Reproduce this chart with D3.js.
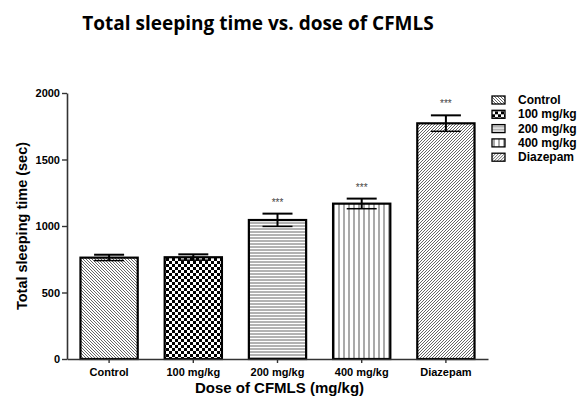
<!DOCTYPE html>
<html>
<head>
<meta charset="utf-8">
<script src="https://cdn.jsdelivr.net/npm/d3@7"></script>
<style>
  body { margin: 0; background: #fff; }
  text { font-family: "Liberation Sans", Arial, sans-serif; font-weight: bold; }
</style>
</head>
<body>
<div id="chart"></div>
<script>
var groups = ["Control", "100 mg/kg", "200 mg/kg", "400 mg/kg", "Diazepam"];
var means = [762, 765, 1045, 1168, 1772];
var errors = [22, 22, 48, 38, 60];
var stars = ["", "", "***", "***", "***"];
var patterns = ["diagBack", "checker", "horiz", "vert", "diagFwd"];
var yTicks = [0, 500, 1000, 1500, 2000];

var W = 578, H = 400;
var margin = {top: 93, right: 90, bottom: 41, left: 67},
    width = 488 - margin.left,
    height = 359 - margin.top;

var svg = d3.select("#chart").append("svg")
    .attr("width", W)
    .attr("height", H);

// patterns
var defs = svg.append("defs");
var p;
p = defs.append("pattern").attr("id", "diagBack").attr("patternUnits", "userSpaceOnUse")
  .attr("width", 3).attr("height", 3);
p.append("rect").attr("width", 3).attr("height", 3).attr("fill", "#fff");
p.append("path").attr("d", "M0,0 L3,3 M-1,2 L1,4 M2,-1 L4,1").attr("stroke", "#555").attr("stroke-width", 0.9);

p = defs.append("pattern").attr("id", "diagFwd").attr("patternUnits", "userSpaceOnUse")
  .attr("width", 3).attr("height", 3);
p.append("rect").attr("width", 3).attr("height", 3).attr("fill", "#fff");
p.append("path").attr("d", "M0,3 L3,0 M-1,1 L1,-1 M2,4 L4,2").attr("stroke", "#555").attr("stroke-width", 0.9);

p = defs.append("pattern").attr("id", "checker").attr("patternUnits", "userSpaceOnUse")
  .attr("width", 6).attr("height", 6);
p.append("rect").attr("width", 6).attr("height", 6).attr("fill", "#fff");
p.append("rect").attr("width", 3).attr("height", 3).attr("fill", "#000");
p.append("rect").attr("x", 3).attr("y", 3).attr("width", 3).attr("height", 3).attr("fill", "#000");

p = defs.append("pattern").attr("id", "horiz").attr("patternUnits", "userSpaceOnUse")
  .attr("width", 3).attr("height", 3);
p.append("rect").attr("width", 3).attr("height", 3).attr("fill", "#fff");
p.append("line").attr("x1", 0).attr("x2", 3).attr("y1", 1).attr("y2", 1).attr("stroke", "#666").attr("stroke-width", 1);

p = defs.append("pattern").attr("id", "vert").attr("patternUnits", "userSpaceOnUse")
  .attr("width", 5).attr("height", 5);
p.append("rect").attr("width", 5).attr("height", 5).attr("fill", "#fff");
p.append("line").attr("y1", 0).attr("y2", 5).attr("x1", 2).attr("x2", 2).attr("stroke", "#555").attr("stroke-width", 1);

// title
svg.append("text")
  .attr("x", 258)
  .attr("y", 30)
  .attr("text-anchor", "middle")
  .style("font-family", "'Open Sans', sans-serif")
  .style("font-size", "19px")
  .text("Total sleeping time vs. dose of CFMLS");

var g = svg.append("g")
  .attr("transform", "translate(" + margin.left + "," + margin.top + ")");

var x = d3.scaleBand().domain(groups).range([0, width]).paddingInner(0.32).paddingOuter(0.16);
var y = d3.scaleLinear().domain([0, 2000]).range([height, 0]);

// bars
g.selectAll(".bar")
  .data(groups)
  .enter().append("rect")
    .attr("class", "bar")
    .attr("x", function(d) { return x(d); })
    .attr("y", function(d, i) { return y(means[i]); })
    .attr("width", x.bandwidth())
    .attr("height", function(d, i) { return height - y(means[i]); })
    .attr("fill", function(d, i) { return "url(#" + patterns[i] + ")"; })
    .attr("stroke", "#000")
    .attr("stroke-width", 2.2);

// error bars
var capW = 30;
groups.forEach(function(d, i) {
  var cx = x(d) + x.bandwidth() / 2;
  var top = y(means[i] + errors[i]), bot = y(means[i] - errors[i]);
  g.append("line").attr("x1", cx).attr("x2", cx).attr("y1", top).attr("y2", bot)
    .attr("stroke", "#000").attr("stroke-width", 2);
  g.append("line").attr("x1", cx - capW / 2).attr("x2", cx + capW / 2).attr("y1", top).attr("y2", top)
    .attr("stroke", "#000").attr("stroke-width", 2);
  g.append("line").attr("x1", cx - capW / 2).attr("x2", cx + capW / 2).attr("y1", bot).attr("y2", bot)
    .attr("stroke", "#000").attr("stroke-width", 1.5);
  if (stars[i]) {
    g.append("text").attr("x", cx).attr("y", top - 8)
      .attr("text-anchor", "middle")
      .style("font-size", "10px")
      .style("font-weight", "normal")
      .attr("fill", "#444")
      .text(stars[i]);
  }
});

// axes
var yAxis = g.append("g")
  .call(d3.axisLeft(y).tickValues(yTicks).tickFormat(d3.format("d")).tickSize(5).tickSizeOuter(0).tickPadding(2));
var xAxis = g.append("g")
  .attr("transform", "translate(0," + height + ")")
  .call(d3.axisBottom(x).tickSize(4).tickSizeOuter(0).tickPadding(5));

[yAxis, xAxis].forEach(function(a) {
  a.select(".domain").attr("stroke", "#333").attr("stroke-width", 1.6);
  a.selectAll(".tick line").attr("stroke", "#333").attr("stroke-width", 1.4);
  a.selectAll("text")
    .style("font-family", "'Liberation Sans', Arial, sans-serif")
    .style("font-weight", "bold")
    .style("font-size", "11px")
    .attr("fill", "#000");
});

// axis titles
svg.append("text")
  .attr("transform", "translate(27," + (margin.top + height / 2) + ") rotate(-90)")
  .attr("text-anchor", "middle")
  .style("font-size", "14.5px")
  .text("Total sleeping time (sec)");

svg.append("text")
  .attr("x", margin.left + width / 2 + 2)
  .attr("y", 393)
  .attr("text-anchor", "middle")
  .style("font-size", "15px")
  .text("Dose of CFMLS (mg/kg)");

// legend
var legend = svg.append("g").attr("transform", "translate(492,100)");
groups.forEach(function(d, i) {
  var row = legend.append("g").attr("transform", "translate(0," + (i * 14.3) + ")");
  row.append("rect").attr("x", 0).attr("y", -4).attr("width", 13).attr("height", 8)
    .attr("fill", "url(#" + patterns[i] + ")")
    .attr("stroke", "#000").attr("stroke-width", 1.3);
  row.append("text").attr("x", 26).attr("y", 4)
    .style("font-size", "12px")
    .text(d);
});
</script>
</body>
</html>
